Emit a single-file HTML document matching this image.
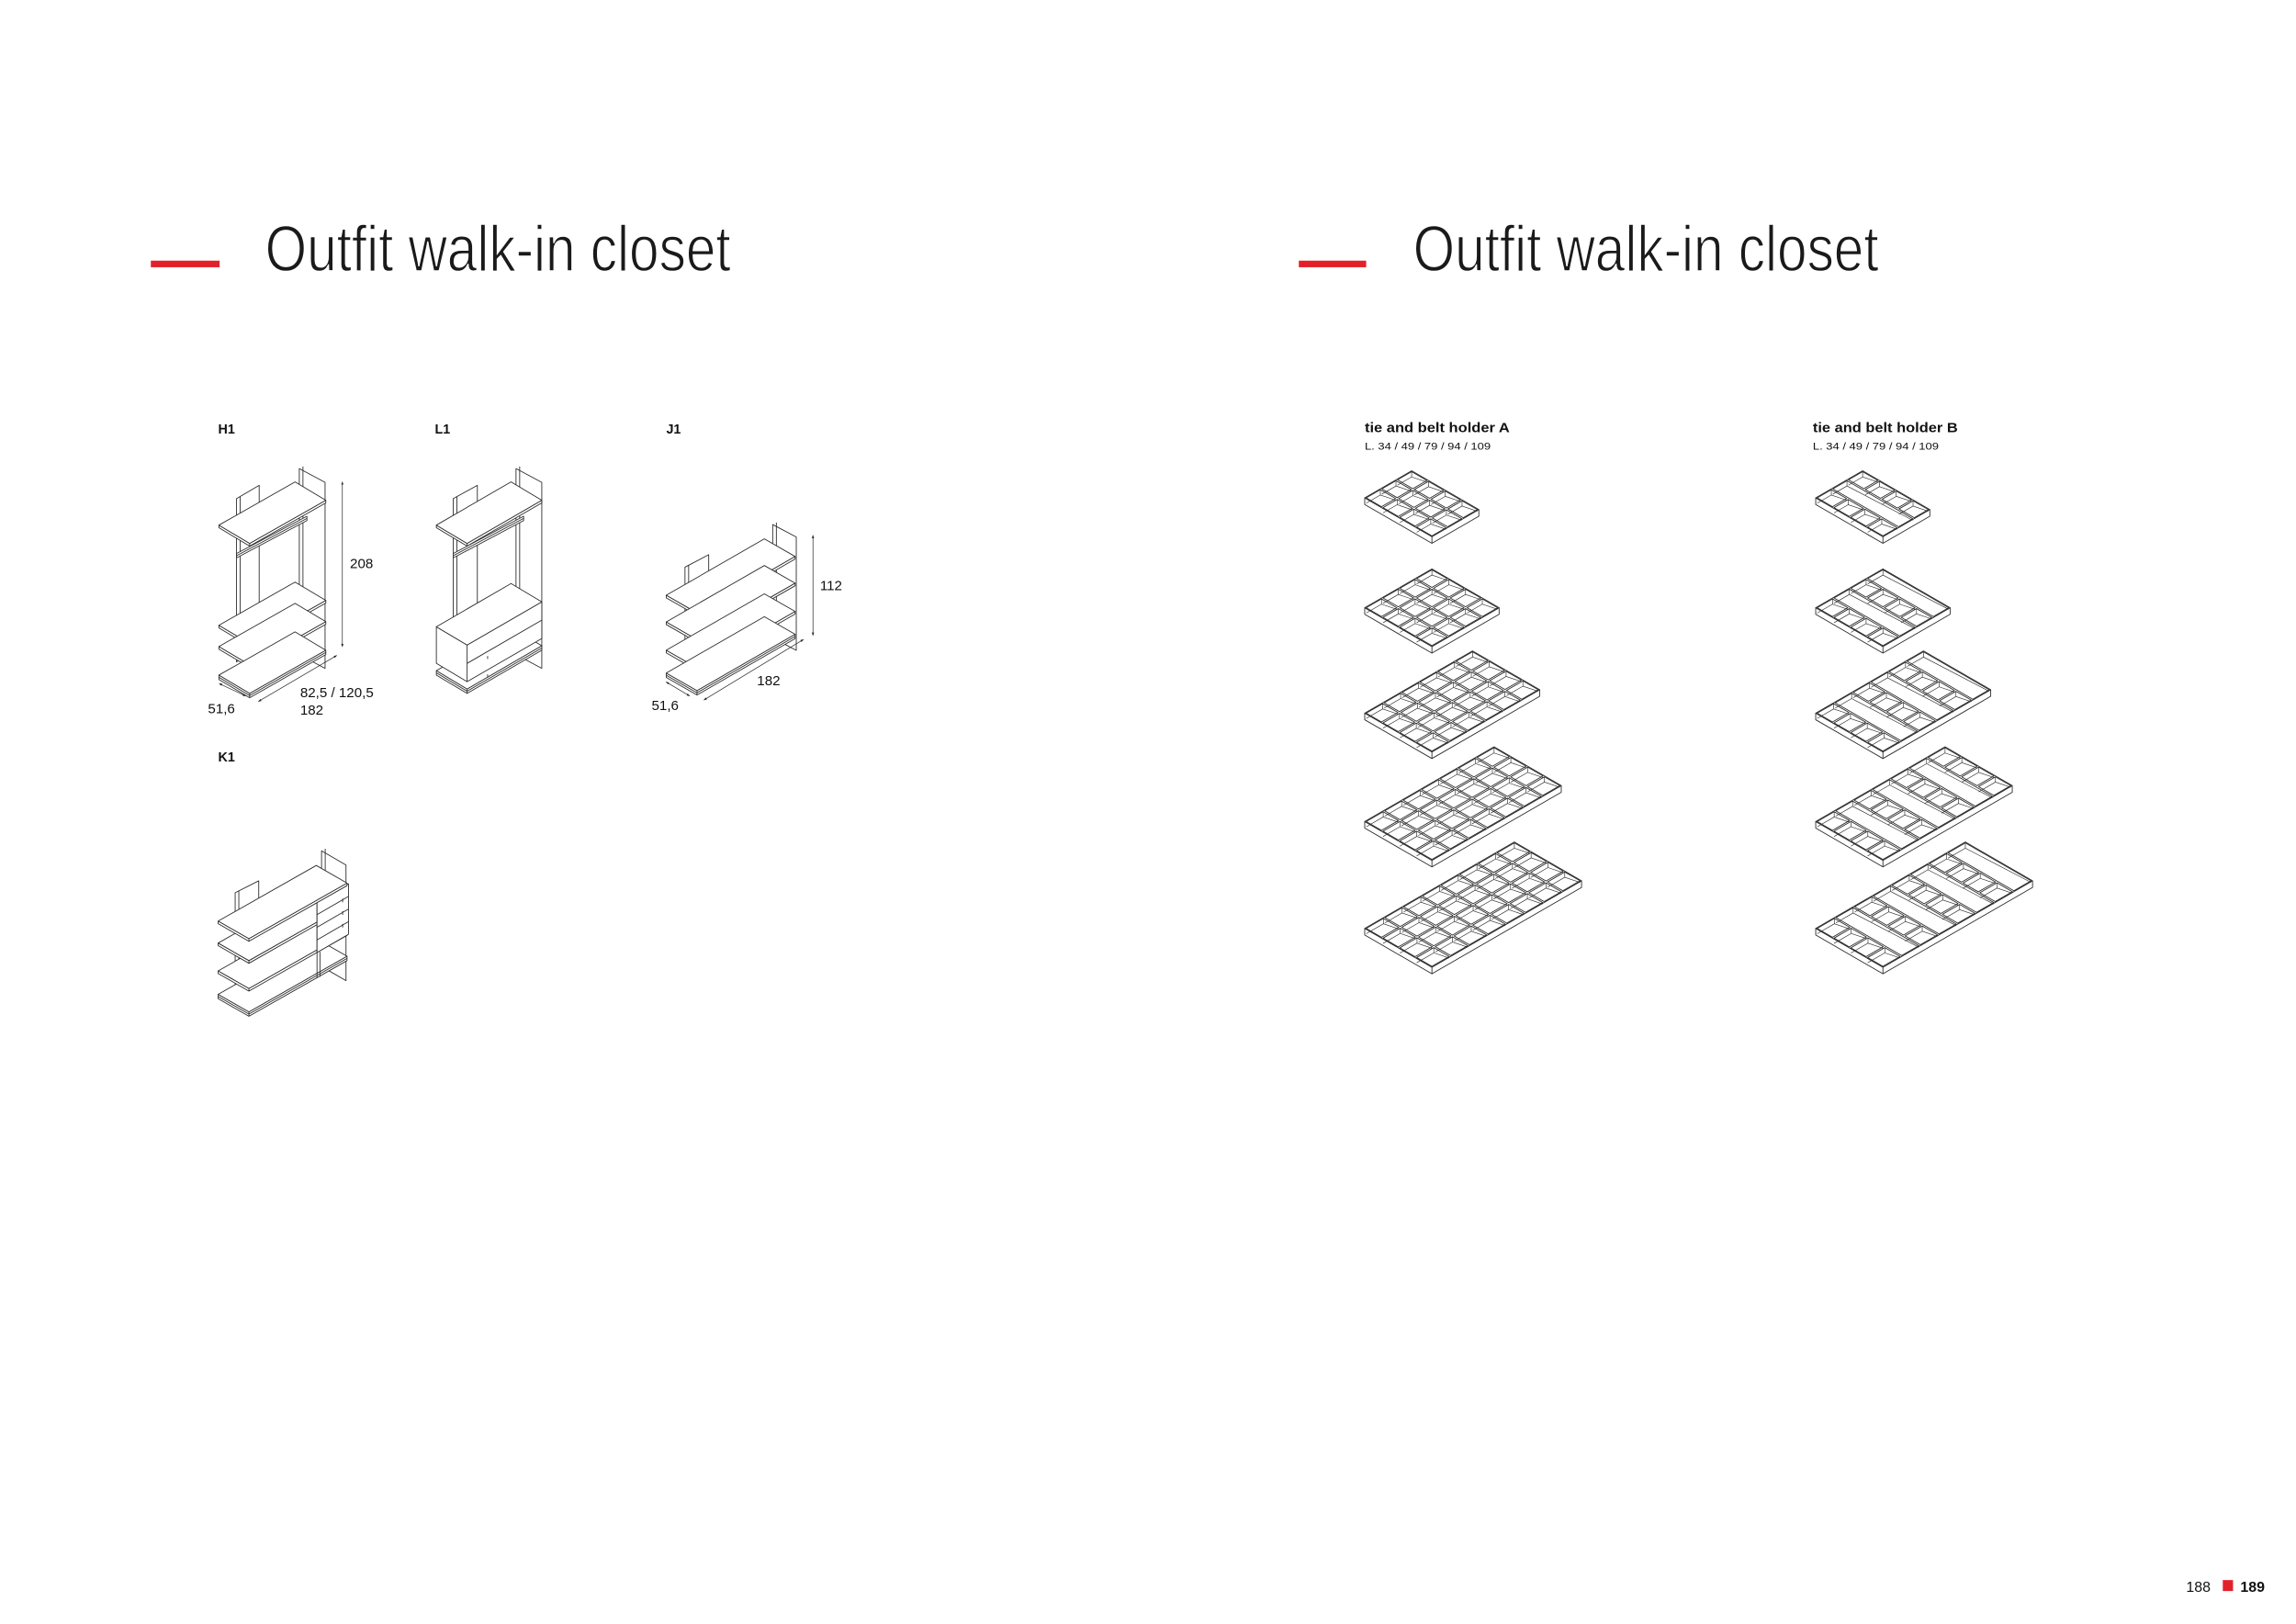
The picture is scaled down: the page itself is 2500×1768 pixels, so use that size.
<!DOCTYPE html>
<html><head><meta charset="utf-8"><style>
html,body{margin:0;padding:0;background:#fff;}
svg{display:block;}
text{font-family:"Liberation Sans",Arial,sans-serif;fill:#111;}
</style></head><body>
<svg id="s" xmlns="http://www.w3.org/2000/svg" width="2500" height="1768" viewBox="0 0 1568 1109" preserveAspectRatio="none">
<defs>
<marker id="ar" viewBox="0 0 10 10" refX="9" refY="5" markerWidth="5" markerHeight="5" orient="auto-start-reverse"><path d="M0,1.5 L10,5 L0,8.5 z" fill="#222"/></marker>
</defs>
<rect x="0" y="0" width="1568" height="1109" fill="#fff"/>
<rect x="103" y="178" width="47" height="4.5" fill="#e3212b"/>
<text x="181" y="185" font-size="44" textLength="318" lengthAdjust="spacingAndGlyphs" style="fill:#1a1a1a;stroke:#fff;stroke-width:0.9;paint-order:normal">Outfit walk-in closet</text>
<rect x="887" y="178" width="46" height="4.5" fill="#e3212b"/>
<text x="965" y="185" font-size="44" textLength="318" lengthAdjust="spacingAndGlyphs" style="fill:#1a1a1a;stroke:#fff;stroke-width:0.9;paint-order:normal">Outfit walk-in closet</text>

<g font-weight="bold" font-size="9">
<text x="149" y="296">H1</text>
<text x="297" y="296">L1</text>
<text x="455" y="296">J1</text>
<text x="149" y="520">K1</text>
</g>
<text x="932" y="295" font-size="9.3" font-weight="bold" textLength="99" lengthAdjust="spacingAndGlyphs">tie and belt holder A</text>
<text x="932" y="307" font-size="6.8" textLength="86" lengthAdjust="spacingAndGlyphs">L. 34 / 49 / 79 / 94 / 109</text>
<text x="1238" y="295" font-size="9.3" font-weight="bold" textLength="99" lengthAdjust="spacingAndGlyphs">tie and belt holder B</text>
<text x="1238" y="307" font-size="6.8" textLength="86" lengthAdjust="spacingAndGlyphs">L. 34 / 49 / 79 / 94 / 109</text>

<text x="1493" y="1087" font-size="10">188</text>
<rect x="1518" y="1079" width="7" height="7.5" fill="#e3212b"/>
<text x="1530" y="1087" font-size="10" font-weight="bold">189</text>

<g id="draw" stroke="#2a2a2a" stroke-width="0.55" fill="none" stroke-linejoin="round"></g>
<g font-size="9.5">
<text x="239" y="388">208</text>
<text x="205" y="476">82,5 / 120,5</text>
<text x="205" y="488">182</text>
<text x="142" y="487">51,6</text>
<text x="560" y="403">112</text>
<text x="517" y="468">182</text>
<text x="445" y="485">51,6</text>
</g>
</svg>
<script>
var g=document.getElementById('draw'),o=[];
function pt(p){return p[0].toFixed(2)+','+p[1].toFixed(2);}
function poly(ps,fill){o.push('<polygon points="'+ps.map(pt).join(' ')+'" fill="'+(fill||'#fff')+'"/>');}
function line(a,b,extra){o.push('<line x1="'+a[0]+'" y1="'+a[1]+'" x2="'+b[0]+'" y2="'+b[1]+'" '+(extra||'')+'/>');}
function add(p,q){return [p[0]+q[0],p[1]+q[1]];}
function shelf(x,y,a,b,t){
 var L=[x,y],A=add(L,a),AB=add(A,b),B=add(L,b),d=[0,t];
 poly([L,B,AB,add(AB,d),add(B,d),add(L,d)]);
 poly([L,A,AB,B]);
 line(B,add(B,d));
 if(t>2.5){line(add(L,[0,t/2]),add(B,[0,t/2]));line(add(B,[0,t/2]),add(AB,[0,t/2]));}
}
function post(x1,y1,x2,y2,bot){
 poly([[x1,y1],[x2,y2],[x2,bot-(y1-y2)],[x1,bot]]);
 line([x1+2.5,y1-1.4],[x1+2.5,bot]);
}
function rail(x1,y1,x2,y2){
 poly([[x1,y1],[x2,y2],[x2,y2+3],[x1,y1+3]]);
 line([x1,y1+1.5],[x2,y2+1.5]);
}
function dim(a,b){line(a,b,'marker-start="url(#ar)" marker-end="url(#ar)" stroke-width="0.45"');}

/* H1 */
post(161.5,340.5,177,331.4,452);
post(204.4,320,222,329.4,447);
shelf(149.5,358.6,[52,-29.5],[21,12.5],1.8);
rail(161.5,378,209.6,352.5);
shelf(149.5,427,[52,-29.5],[21,12.5],1.8);
shelf(149.5,441.5,[52,-29.5],[21,12.5],1.8);
shelf(149.5,461,[52,-29.5],[21,12.5],3);
dim([233.8,329],[233.8,441.7]);
dim([176.5,479],[230,447.6]);
dim([149.7,466.8],[167.8,475.3]);

/* L1 */
post(309.5,340.5,326,331.4,452);
post(352.4,320,370,329.4,447);
shelf(298,358.6,[51,-29.5],[21,12.5],1.8);
rail(309.5,378,357.6,352.5);
shelf(298,458,[51,-29.5],[21,12.5],3);
(function(){
 var L=[298,428],a=[51,-29.5],b=[21,12.5],h=25;
 var A=add(L,a),AB=add(A,b),B=add(L,b),d=[0,h];
 poly([L,B,AB,add(AB,d),add(B,d),add(L,d)]);
 poly([L,A,AB,B]);
 line(B,add(B,d));
 line(add(B,[0,h/2]),add(AB,[0,h/2]));
 line(add(B,[14,h*0.3]),add(B,[14,h*0.3+2]));
 line(add(B,[14,h*0.8]),add(B,[14,h*0.8+2]));
})();

/* J1 */
post(467.8,387.3,484,378.8,455);
post(527.7,358.2,543.8,366.7,435.6);
var ja=[67,-38.5],jb=[21,12];
shelf(455,406.5,ja,jb,1.8);
shelf(455,424.7,ja,jb,1.8);
shelf(455,444,ja,jb,1.8);
shelf(455,459.6,ja,jb,3);
dim([555.2,365.5],[555.2,434]);
dim([480.7,478],[548.7,436.7]);
dim([454.9,465.7],[471,475.3]);

/* K1 */
post(160.6,609.6,176.7,601.5,673);
post(219.6,581,236.3,590.7,660);
shelf(149,679,[67,-38],[21,12],3);
line([216.5,650.5],[216.5,668]);line([218.5,650],[218.5,667]);
shelf(149,663,[67,-38],[21,12],1.8);
shelf(149,644,[67,-38],[21,12],1.8);
line([216.5,616],[216.5,650]);line([218.5,615],[218.5,649]);
poly([[216.5,616],[238,603.5],[238,638],[216.5,650.5]]);
for(var i=1;i<4;i++){var f=i/4;line([216.5,616+34.5*f],[238,603.5+34.5*f]);line([234,606+34.5*f-1],[234,606+34.5*f+1.5]);}
shelf(149,629,[67,-38],[21,12],1.8);

/* trays */
function P(x0,y0,l,w){return [x0+0.866*(l+w),y0-0.5*l+0.5*w];}
function tray(x0,y0,L,W,cells){
 var h=4.5,d=[0,h];
 var p00=P(x0,y0,0,0),pL0=P(x0,y0,L,0),pLW=P(x0,y0,L,W),p0W=P(x0,y0,0,W);
 poly([p00,p0W,pLW,add(pLW,d),add(p0W,d),add(p00,d)]);
 line(p0W,add(p0W,d));
 poly([p00,pL0,pLW,p0W]);
 var i2=0.6;
 cells.forEach(function(c){
  var l0=c[0]+i2,l1=c[1]-i2,w0=c[2]+i2,w1=c[3]-i2;
  var a=P(x0,y0,l0,w0),b=P(x0,y0,l1,w0),cc=P(x0,y0,l1,w1),dd=P(x0,y0,l0,w1);
  var hh=[0,Math.min(h*0.8,(w1-w0)*0.4,(l1-l0)*0.4)];
  o.push('<polyline stroke-width="0.4" points="'+[add(a,hh),add(b,hh),add(cc,[0,hh[1]*0.3])].map(pt).join(' ')+'"/>');
  line(b,add(b,hh),'stroke-width="0.4"');
  poly([a,b,cc,dd],'none');
 });
}
function gridCells(L,W,nl,nw){var c=[];for(var i=0;i<nl;i++)for(var j=0;j<nw;j++)c.push([L*i/nl,L*(i+1)/nl,W*j/nw,W*(j+1)/nw]);return c;}
function bCells(L,W,n){
 var sw=L/n,c=[];
 for(var i=0;i<n;i++){
  var l=i*sw;
  if(i%2==0){for(var j=0;j<4;j++)c.push([l,l+sw,W*j/4,W*(j+1)/4]);}
  else c.push([l,l+sw,0,W]);
 }
 return c;
}
var Ls=[37,53,85,102,118],Ys=[340,415,487,561,634],W=53;
var nl=[3,4,6,7,8];
for(var t=0;t<5;t++){
 tray(932,Ys[t],Ls[t],W,gridCells(Ls[t],W,nl[t],4));
 tray(1240,Ys[t],Ls[t],W,bCells(Ls[t],W,nl[t]));
}
g.innerHTML=o.join('');
</script>
</body></html>
